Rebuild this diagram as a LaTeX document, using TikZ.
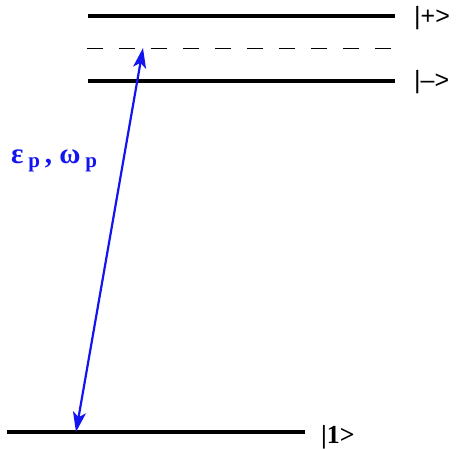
\documentclass[tikz,border=0pt]{standalone}
\usepackage{fontspec}
\setmainfont{Liberation Serif}
\newfontfamily\lsans{Liberation Sans}
\usetikzlibrary{arrows.meta}
\definecolor{pblue}{RGB}{20,20,240}
\tikzset{
  level/.style={line width=4.5pt},
  virt/.style={line width=1pt, dash pattern=on 16pt off 16pt},
  ketsans/.style={font=\lsans\fontsize{25}{26}\selectfont, anchor=west, inner sep=0pt},
  ketserif/.style={font=\bfseries\fontsize{26}{28}\selectfont, anchor=west, inner sep=0pt},
  trans/.style={pblue, line width=2.2pt, {Stealth[length=20pt,width=13pt,inset=5pt]}-{Stealth[length=20pt,width=13pt,inset=5pt]}}
}
\begin{document}
\begin{tikzpicture}[x=1pt,y=-1pt]
\useasboundingbox (0,0) rectangle (456,448);
\coordinate (pl) at (88,16); \coordinate (pr) at (395,16);
\coordinate (dl) at (87,48); \coordinate (dr) at (395,48);
\coordinate (ml) at (88,81); \coordinate (mr) at (395,81);
\coordinate (gl) at (7,432); \coordinate (gr) at (305,432);
\draw[level] (pl) -- (pr);
\draw[virt] (dl) -- (dr);
\draw[level] (ml) -- (mr);
\draw[level] (gl) -- (gr);
\node[ketsans] (kp) at (414,18) {|+>};
\node[ketsans] (km) at (414,82) {|\textendash>};
\node[ketserif] (k1) at (321,437) {|1>};
\coordinate (a1) at (76,432);
\coordinate (a2) at (143,48);
\draw[trans] (a1) -- (a2);
\node[pblue, font=\bfseries\fontsize{29}{30}\selectfont, anchor=west, inner sep=0pt] (lab) at (11,161) {ε\,{\fontsize{21}{22}\selectfont\raisebox{-4pt}{p}}\,,\ ω\,{\fontsize{21}{22}\selectfont\raisebox{-4pt}{p}}};
\end{tikzpicture}
\end{document}
